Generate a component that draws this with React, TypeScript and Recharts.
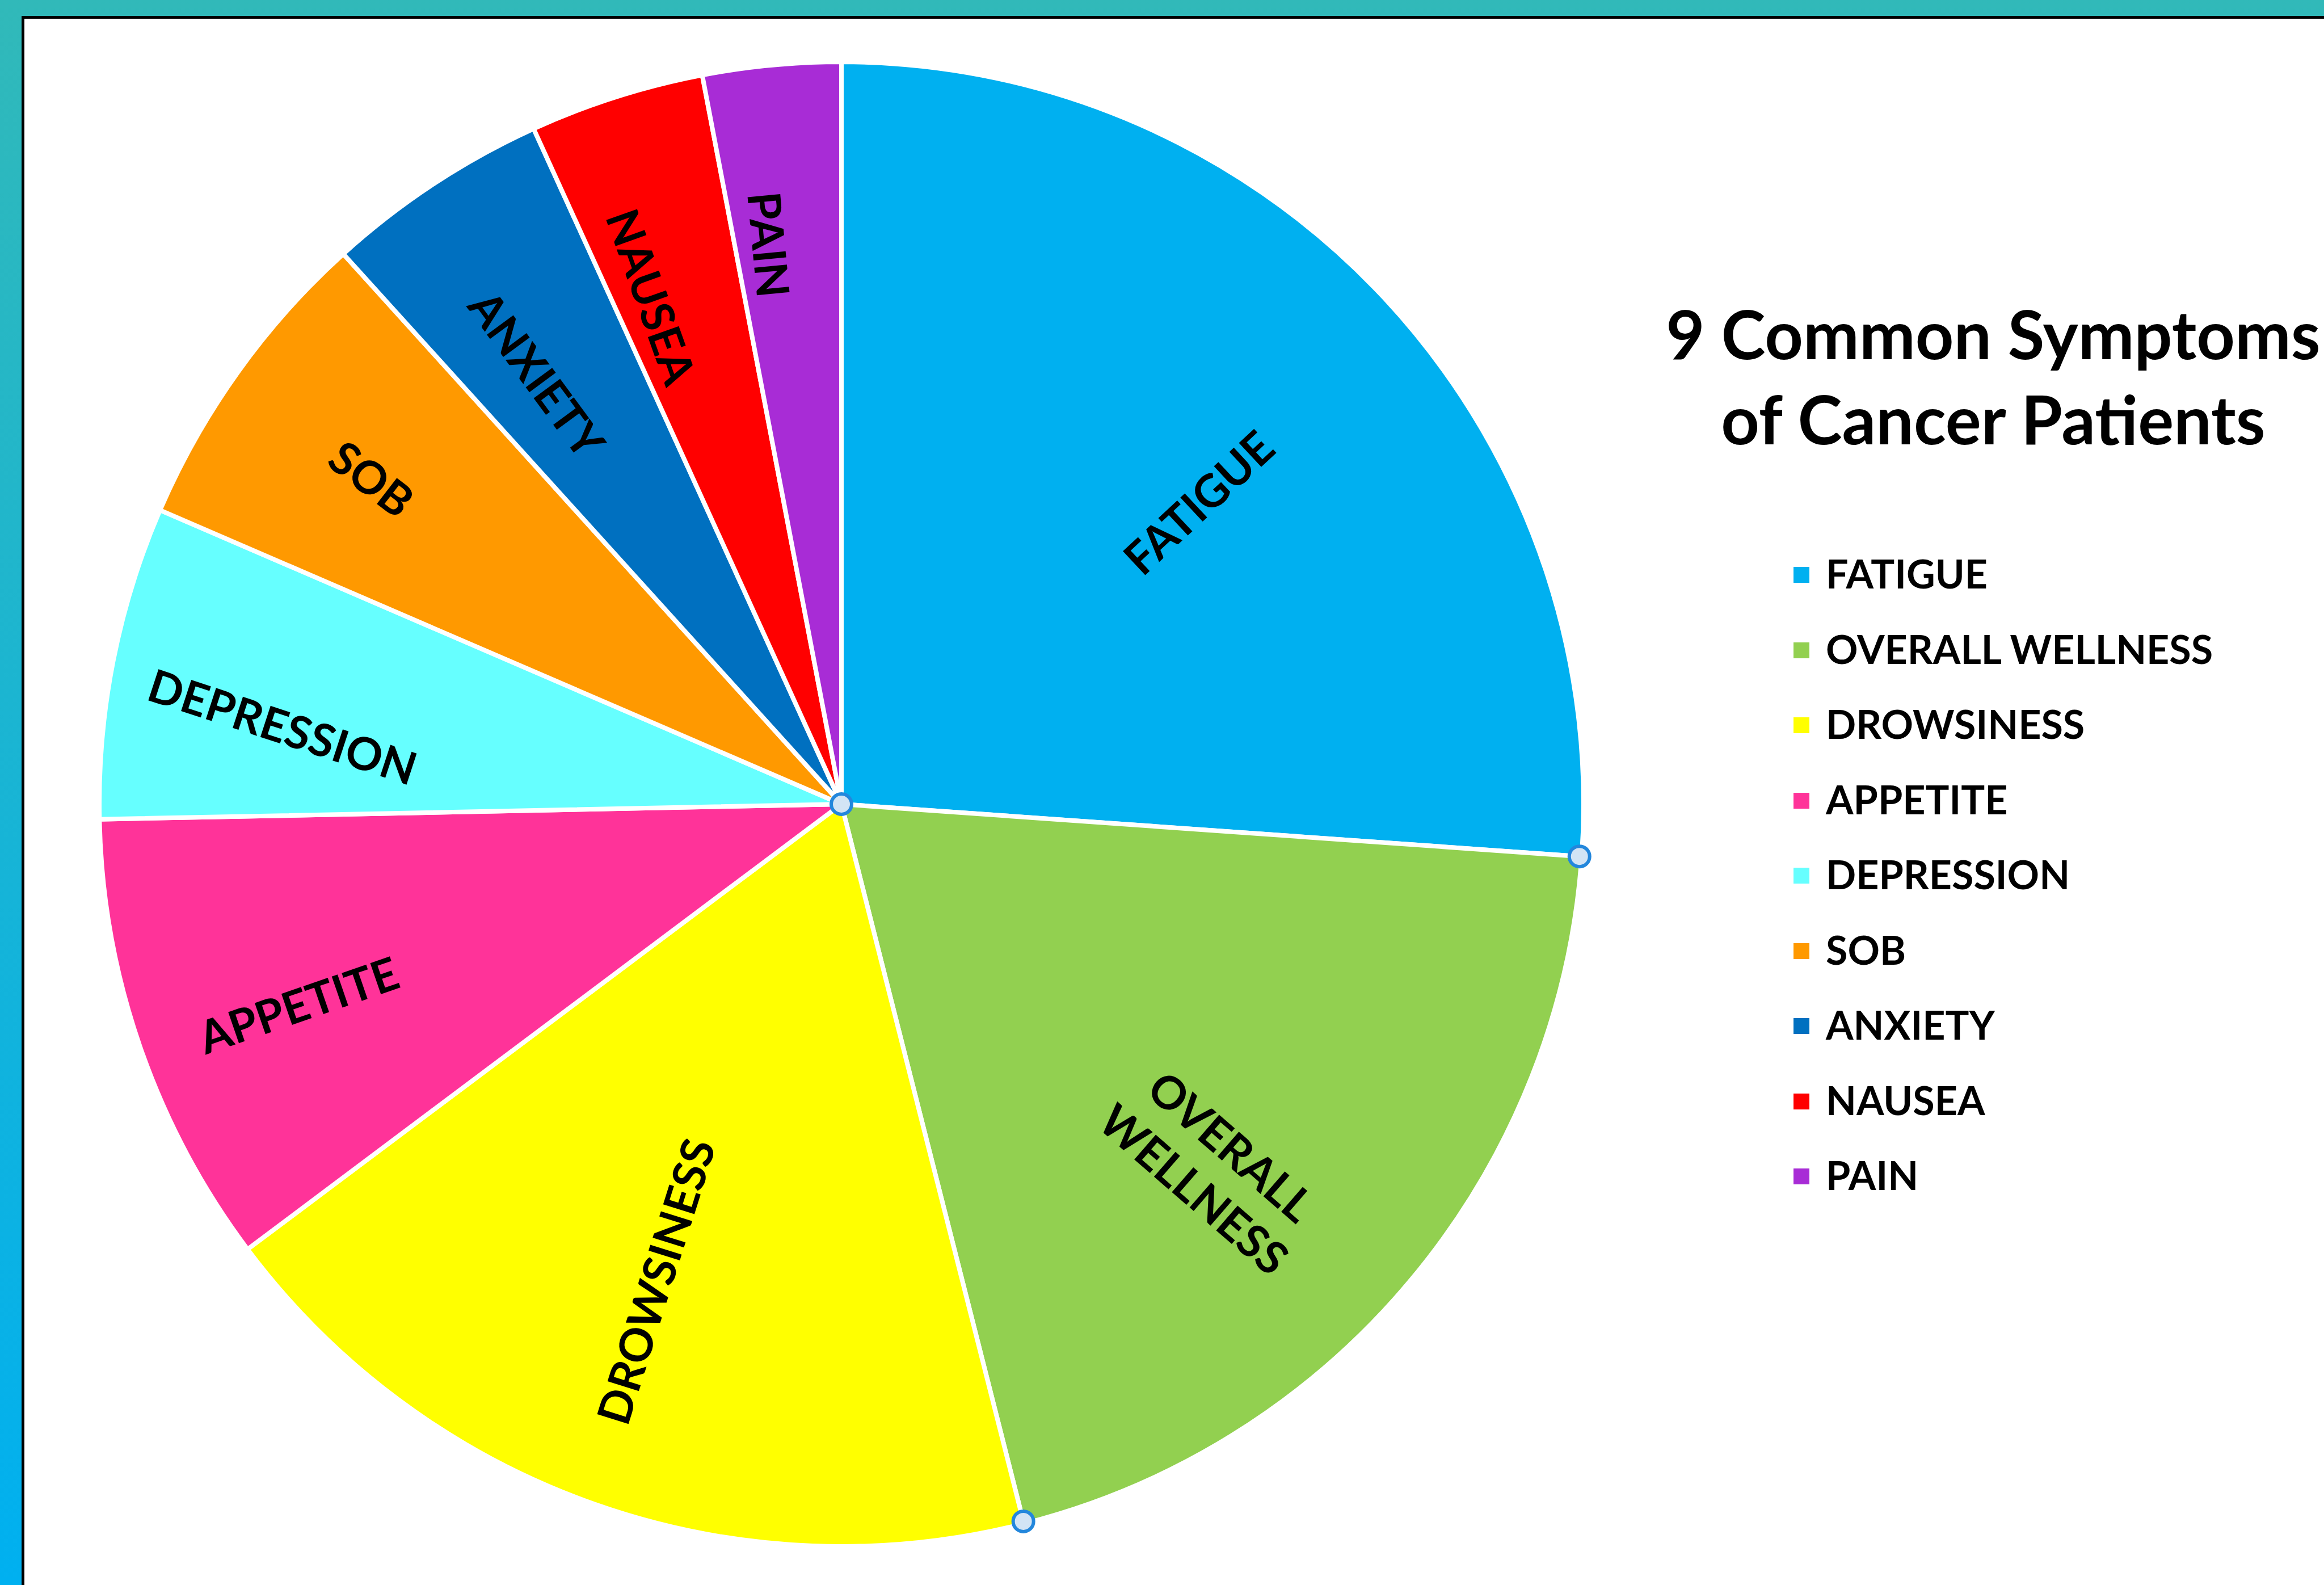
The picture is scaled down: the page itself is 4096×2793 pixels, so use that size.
import React from 'react';
import { PieChart, Pie, Cell, Legend } from 'recharts';

const W = 4096;
const H = 2793;

const symptoms = ['FATIGUE', 'OVERALL WELLNESS', 'DROWSINESS', 'APPETITE', 'DEPRESSION', 'SOB', 'ANXIETY', 'NAUSEA', 'PAIN'];
const shares = [26.1, 19.9, 18.7, 9.9, 6.8, 6.8, 4.9, 3.8, 3.0];
const sliceColors = ['#00B0F0', '#92D050', '#FFFF00', '#FF3399', '#66FFFF', '#FF9900', '#0070C0', '#FF0000', '#A82CD6'];
const titleLines = ['9 Common Symptoms', 'of Cancer Patients'];

const data = symptoms.map((name, i) => ({ name, value: shares[i] }));

// label placement tweaks: depth as share of radius, angular nudge and extra tilt in degrees
const labelDepth = [0.63, 0.7, 0.69, 0.78, 0.76, 0.77, 0.71, 0.73, 0.76];
const labelNudge = [-2.7, -4.4, -1.9, 1.2, 3.1, 0.8, 1.9, 2.8, 1.9];
const labelTilt = [0, 1, -2, 0, 7, 2, -3, -2, 0];
const SELECTED = 1; // slice showing the excel selection handles

const FONT = "Lato, 'Open Sans', sans-serif";
const CX = 1478;
const CY = 1412;
const R = 1308;
const GAP = 8;
const RAD = Math.PI / 180;

const polar = (cx: number, cy: number, r: number, a: number) => ({
  x: cx + r * Math.cos(-a * RAD),
  y: cy + r * Math.sin(-a * RAD),
});

const Handle = ({ x, y }: { x: number; y: number }) => (
  <circle cx={x} cy={y} r={18} fill="#D2E4F5" stroke="#2387DC" strokeWidth={6} />
);

const renderLabel = (props: any) => {
  const { cx, cy, midAngle, outerRadius, startAngle, endAngle, index, name } = props;
  const p = polar(cx, cy, outerRadius * labelDepth[index], midAngle + labelNudge[index]);
  const m = ((midAngle % 360) + 360) % 360;
  const rot = (m > 90 && m < 270 ? 180 - m : -m) + labelTilt[index];
  const words = name === 'OVERALL WELLNESS' ? ['OVERALL', 'WELLNESS'] : [name];
  const lh = 100;
  const edge = outerRadius - GAP / 2;
  return (
    <g>
      <text
        x={p.x}
        y={p.y}
        transform={`rotate(${rot} ${p.x} ${p.y})`}
        textAnchor="middle"
        dominantBaseline="central"
        fontFamily={FONT}
        fontWeight={700}
        fontSize={80}
        fill="#000"
      >
        {words.map((w, k) => (
          <tspan key={w} x={p.x} dy={k === 0 ? (-(words.length - 1) / 2) * lh : lh}>
            {w}
          </tspan>
        ))}
      </text>
      {index === SELECTED && (
        <g>
          <Handle x={cx} y={cy} />
          <Handle {...polar(cx, cy, edge, startAngle)} />
          <Handle {...polar(cx, cy, edge, endAngle)} />
        </g>
      )}
    </g>
  );
};

const LegendList = () => (
  <div style={{ fontFamily: FONT, fontWeight: 700, fontSize: 70, color: '#000' }}>
    {symptoms.map((s, i) => (
      <div key={s} style={{ height: 132.5, display: 'flex', alignItems: 'center' }}>
        <span style={{ width: 28, height: 28, background: sliceColors[i], marginRight: 29, marginTop: 6 }} />
        <span style={{ lineHeight: 1, whiteSpace: 'nowrap' }}>{s}</span>
      </div>
    ))}
  </div>
);

export default function App() {
  return (
    <div
      style={{
        position: 'absolute',
        left: 0,
        top: 0,
        width: W,
        height: H,
        overflow: 'hidden',
        background: 'linear-gradient(180deg, #31B9B9 0%, #00B0F0 100%)',
      }}
    >
      <div
        style={{
          position: 'absolute',
          left: 38,
          top: 28,
          width: W,
          height: H,
          background: '#fff',
          borderTop: '5px solid #000',
          borderLeft: '5px solid #000',
        }}
      />
      <div style={{ position: 'absolute', left: 0, top: 0 }}>
        <PieChart width={W} height={H}>
          <Pie
            data={data}
            dataKey="value"
            nameKey="name"
            cx={CX}
            cy={CY}
            outerRadius={R}
            startAngle={90}
            endAngle={-270}
            stroke="#fff"
            strokeWidth={GAP}
            label={renderLabel}
            labelLine={false}
            isAnimationActive={false}
          >
            {data.map((d, i) => (
              <Cell key={d.name} fill={sliceColors[i]} />
            ))}
          </Pie>
          <Legend
            layout="vertical"
            content={() => <LegendList />}
            wrapperStyle={{ left: 3161, top: 944, width: 900, bottom: 'auto', right: 'auto' }}
          />
        </PieChart>
      </div>
      <div
        style={{
          position: 'absolute',
          left: 3513 - 800,
          top: 513,
          width: 1600,
          textAlign: 'center',
          fontFamily: FONT,
          fontWeight: 700,
          fontSize: 118,
          lineHeight: '150px',
          color: '#000',
          whiteSpace: 'nowrap',
        }}
      >
        {titleLines.map((t) => (
          <div key={t}>{t}</div>
        ))}
      </div>
    </div>
  );
}
